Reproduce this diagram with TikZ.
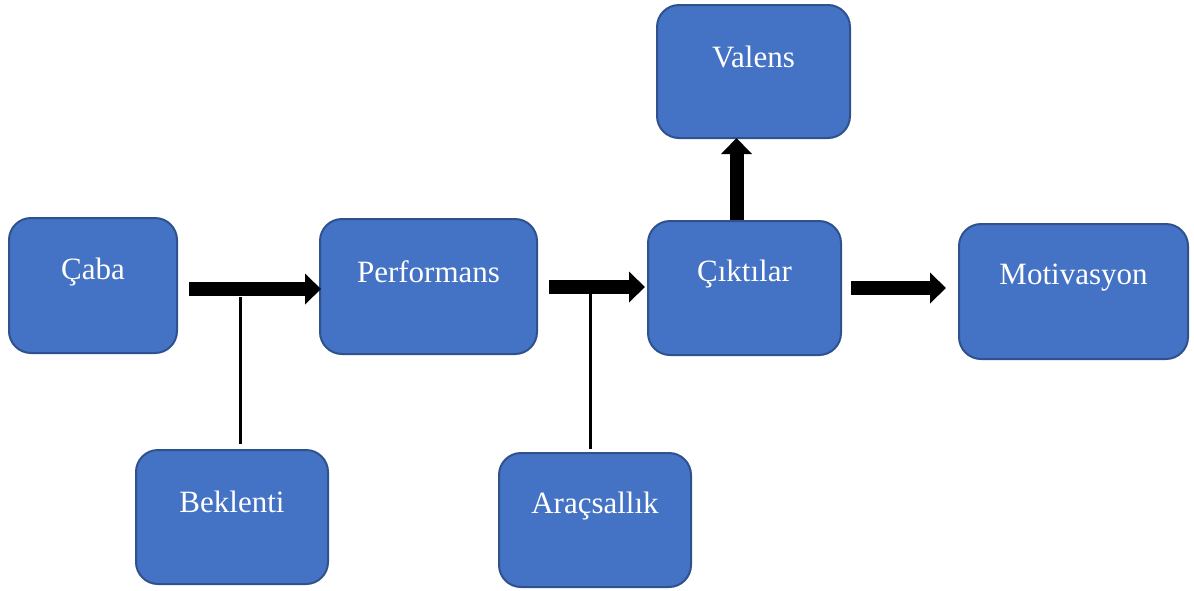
\documentclass[tikz,border=0pt]{standalone}
\usepackage{fontspec}
\setmainfont{Liberation Serif}
\usetikzlibrary{arrows.meta}
\definecolor{boxfill}{HTML}{4472C4}
\definecolor{boxdraw}{HTML}{2F528F}
\tikzset{
  box/.style={draw=boxdraw, fill=boxfill, line width=2pt, rounded corners=22pt,
    minimum width=#1, text=white, inner sep=0pt},
  lbl/.style={text=white, font=\fontsize{31}{36}\selectfont, inner sep=0pt},
  blockarrow/.style={line width=14pt, -{Triangle[width=30pt,length=16pt]}},
  stem/.style={line width=3pt},
}
\begin{document}
\begin{tikzpicture}[x=1pt,y=-1pt]
\useasboundingbox (0,0) rectangle (1194,590);
% boxes
\node[box=168pt, minimum height=135pt] (caba) at (93,285.5) {};
\node[lbl] at (93,272) {Çaba};
\node[box=217pt, minimum height=135pt] (perf) at (428.5,286.5) {};
\node[lbl] at (428.5,272) {Performans};
\node[box=193pt, minimum height=134pt] (cikti) at (744.5,288) {};
\node[lbl] at (744.5,274) {Çıktılar};
\node[box=193pt, minimum height=133pt] (valens) at (753.5,71.5) {};
\node[lbl] at (753.5,57) {Valens};
\node[box=229pt, minimum height=135pt] (motiv) at (1073.5,291.5) {};
\node[lbl] at (1073.5,278) {Motivasyon};
\node[box=192pt, minimum height=134pt] (bek) at (232,517) {};
\node[lbl] at (232,502) {Beklenti};
\node[box=192pt, minimum height=134pt] (arac) at (595,520) {};
\node[lbl] at (595,506) {Araçsallık};
% junction points
\coordinate (j1) at (240,289);
\coordinate (j2) at (590,287);
% stems
\draw[stem, shorten <=5pt, shorten >=8pt] (j1 |- bek.north) -- (j1);
\draw[stem, shorten <=3pt, shorten >=6pt] (j2 |- arac.north) -- (j2);
% block arrows
\draw[blockarrow, shorten <=11pt, shorten >=-2pt] (caba.east |- j1) -- (perf.west |- j1);
\draw[blockarrow, shorten <=11pt, shorten >=2pt] (perf.east |- j2) -- (cikti.west |- j2);
\draw[blockarrow, shorten >=-1pt] ([xshift=-8pt]cikti.north) -- ([xshift=-17pt]valens.south);
\draw[blockarrow, shorten <=9pt, shorten >=12pt] (cikti.east |- 0,288) -- (motiv.west |- 0,288);
\end{tikzpicture}
\end{document}
